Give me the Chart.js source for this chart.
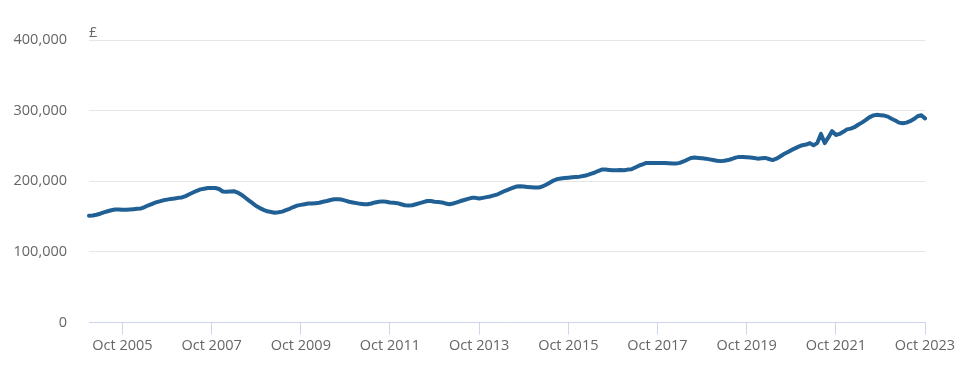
<!DOCTYPE html>
<html>
<head>
<meta charset="utf-8">
<script src="https://cdn.jsdelivr.net/npm/chart.js@4/dist/chart.umd.min.js"></script>
<style>
  html, body { margin: 0; padding: 0; background: #fff; }
  #wrap { width: 975px; height: 384px; position: relative; }
</style>
</head>
<body>
<div id="wrap"><canvas id="grafico-precio"></canvas></div>
<script>
// Precio medio mensual (£), ene 2005 – oct 2023
var precios2005 = [151000, 151500, 152500, 154000, 156000, 157500, 159000, 160000, 160000, 159500, 159500, 160000];
var precios2006 = [160500, 161000, 161500, 163500, 166000, 168000, 170000, 171500, 173000, 174000, 175000, 175500];
var precios2007 = [176500, 177000, 179000, 181500, 184000, 186500, 188500, 189500, 190500, 190500, 190500, 189000];
var precios2008 = [185500, 185000, 185500, 186000, 184000, 181000, 177000, 173000, 169000, 165000, 162000, 159500];
var precios2009 = [157500, 156500, 155500, 156000, 157000, 159000, 161000, 163500, 165500, 166500, 167500, 168500];
var precios2010 = [168500, 169000, 169500, 171000, 172000, 173500, 174500, 174500, 174000, 172500, 171000, 170000];
var precios2011 = [169000, 168000, 167500, 167500, 168500, 170000, 171000, 171500, 171000, 170000, 169500, 169000];
var precios2012 = [167500, 166000, 165500, 166000, 167500, 169000, 170500, 172000, 172000, 171000, 170500, 170000];
var precios2013 = [168500, 167500, 168500, 170000, 172000, 173500, 175000, 176500, 176500, 175500, 176500, 177500];
var precios2014 = [178500, 180000, 181500, 184000, 186500, 188500, 190500, 192500, 193000, 192500, 192000, 191500];
var precios2015 = [191000, 191000, 192500, 195000, 198000, 201000, 203000, 204000, 204500, 205000, 205500, 206000];
var precios2016 = [206500, 207500, 208500, 210500, 212000, 214500, 216500, 216500, 216000, 215500, 215500, 216000];
var precios2017 = [215500, 216500, 217000, 219500, 222000, 224000, 226000, 226000, 226000, 226000, 226000, 226000];
var precios2018 = [225500, 225000, 225000, 226000, 228000, 230500, 233000, 233500, 233000, 232500, 232000, 231000];
var precios2019 = [230000, 229000, 228500, 229000, 230000, 231500, 233500, 234500, 234500, 234000, 233500, 233000];
var precios2020 = [232000, 232500, 233000, 231500, 230000, 232000, 235000, 238500, 241000, 244000, 246500, 249000];
var precios2021 = [251000, 252000, 254000, 251000, 254000, 267000, 254000, 262000, 271000, 265500, 267000, 270000];
var precios2022 = [273500, 274500, 276500, 280000, 283000, 286500, 290500, 293000, 294000, 293500, 293000, 291500];
var precios2023 = [288500, 286000, 283000, 282000, 283000, 285000, 288000, 292000, 293500, 289000];

var anioInicio = 2005;
var nombresMes = ['Jan', 'Feb', 'Mar', 'Apr', 'May', 'Jun', 'Jul', 'Aug', 'Sep', 'Oct', 'Nov', 'Dec'];
var aniosEtiqueta = [2005, 2007, 2009, 2011, 2013, 2015, 2017, 2019, 2021, 2023];
var mesEtiqueta = 9; // octubre
var marcasY = [0, 100000, 200000, 300000, 400000];

var precios = [].concat(precios2005, precios2006, precios2007, precios2008, precios2009,
  precios2010, precios2011, precios2012, precios2013, precios2014, precios2015, precios2016,
  precios2017, precios2018, precios2019, precios2020, precios2021, precios2022, precios2023);

var meses = precios.map(function (_, i) {
  return nombresMes[i % 12] + ' ' + (anioInicio + Math.floor(i / 12));
});

var fuente = { family: '"Open Sans", sans-serif', size: 14.5 };
var gris = '#666666';

var simboloLibra = {
  id: 'simboloLibra',
  afterDraw: function (chart) {
    var ctx = chart.ctx;
    ctx.save();
    ctx.font = '14.5px "Open Sans", sans-serif';
    ctx.fillStyle = gris;
    ctx.textAlign = 'left';
    ctx.textBaseline = 'alphabetic';
    ctx.fillText('£', chart.chartArea.left, chart.chartArea.top - 3.5);
    ctx.restore();
  }
};

new Chart(document.getElementById('grafico-precio'), {
  type: 'line',
  data: {
    labels: meses,
    datasets: [{
      data: precios,
      borderColor: '#206095',
      borderWidth: 4,
      borderJoinStyle: 'round',
      borderCapStyle: 'round',
      pointRadius: 0,
      tension: 0,
      fill: false
    }]
  },
  options: {
    responsive: true,
    maintainAspectRatio: false,
    animation: false,
    layout: { padding: { top: 40, right: 50, left: 0, bottom: 0 } },
    plugins: { legend: { display: false }, tooltip: { enabled: false } },
    scales: {
      x: {
        type: 'category',
        offset: false,
        afterBuildTicks: function (scale) {
          scale.ticks = scale.ticks.filter(function (t) {
            var mes = t.value % 12;
            var anio = anioInicio + Math.floor(t.value / 12);
            return mes === mesEtiqueta && aniosEtiqueta.indexOf(anio) !== -1;
          });
        },
        afterFit: function (scale) { scale.height = 61.5; },
        grid: { drawOnChartArea: false, drawTicks: true, tickLength: 12, color: '#ccd6eb' },
        border: { display: true, color: '#ccd6eb', width: 1 },
        ticks: {
          autoSkip: false,
          maxRotation: 0,
          padding: 3,
          color: gris,
          font: fuente,
          callback: function (value) { return this.getLabelForValue(value); }
        }
      },
      y: {
        min: 0,
        max: 400000,
        afterBuildTicks: function (scale) {
          scale.ticks = marcasY.map(function (v) { return { value: v }; });
        },
        afterFit: function (scale) { scale.width = 89; },
        grid: {
          drawTicks: false,
          color: function (c) { return c.tick && c.tick.value === 0 ? 'rgba(0,0,0,0)' : '#e6e6e6'; }
        },
        border: { display: false },
        ticks: {
          padding: 22,
          color: gris,
          font: fuente,
          callback: function (value) { return value.toLocaleString('en-GB'); }
        }
      }
    }
  },
  plugins: [simboloLibra]
});
</script>
</body>
</html>
